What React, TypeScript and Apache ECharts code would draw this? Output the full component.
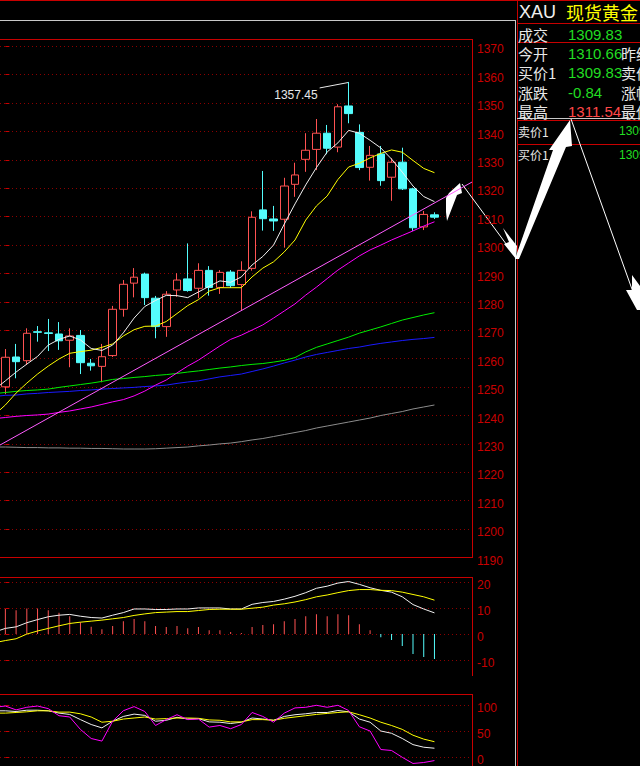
import React, { useEffect, useRef } from "react";
import * as echarts from "echarts";

// ---------- data ----------
const categories = Array.from({ length: 44 }, (_, i) => `K${i + 1}`);

const opens = [1250.1, 1260.6, 1259.3, 1269.5, 1269.1, 1268.7, 1266.5, 1268.2, 1258.4, 1257.3, 1261.1, 1277.4, 1286.6, 1289.8, 1281.3, 1271.3, 1284.2, 1288.1, 1284.8, 1291.1, 1285.1, 1290.5, 1286.1, 1291.8, 1312.4, 1309.2, 1309.1, 1321.4, 1330.2, 1333.7, 1339.4, 1334.5, 1349, 1339.7, 1327.4, 1332.1, 1323.9, 1329.2, 1319.8, 1306.4, 1310.66];
const closes = [1260.5, 1258.95, 1268.95, 1269.3, 1268.9, 1266.3, 1268, 1258.6, 1257.5, 1260.7, 1277.4, 1286.2, 1288.7, 1281.5, 1271.3, 1282.7, 1287.7, 1284, 1291.1, 1285.1, 1290.4, 1285.7, 1291.1, 1309.8, 1309.3, 1308.5, 1320.8, 1324.7, 1333.4, 1339.4, 1334.1, 1348.7, 1346.3, 1327.3, 1331.6, 1322.7, 1329.2, 1319.8, 1306.1, 1310.8, 1309.83];
const lows = [1247.5, 1253.1, 1257.8, 1266, 1262.7, 1263.1, 1257, 1254.6, 1255.8, 1251.7, 1260.6, 1274.8, 1281.6, 1278.9, 1267.2, 1267.7, 1281.8, 1283.6, 1281.3, 1282.2, 1282.8, 1284.9, 1277.1, 1291, 1305.1, 1305, 1299.1, 1317, 1325.8, 1326.4, 1332, 1332.7, 1342.9, 1326.4, 1322.7, 1320.9, 1315.6, 1319.4, 1305, 1305.3, 1309.2];
const highs = [1263.4, 1265.2, 1270.7, 1271.5, 1274, 1272.9, 1270.7, 1270.1, 1259.9, 1265.2, 1278.6, 1287.7, 1291.9, 1290.3, 1282.1, 1283.8, 1290.1, 1300.6, 1293.6, 1292.6, 1291.2, 1291.2, 1294.3, 1311.9, 1326.1, 1313.8, 1323.7, 1329, 1339.4, 1344.4, 1342.3, 1349.6, 1357.45, 1342.5, 1334.9, 1334.9, 1330.6, 1334.3, 1320.2, 1312, 1311.54];

// moving averages: first value is the reading at the left edge of the plot
const ma5 = [1250.7, 1252.2, 1255.3, 1258.1, 1260.8, 1264.8, 1266.8, 1268, 1266.6, 1263.6, 1262.9, 1264.8, 1269.1, 1274.3, 1278.4, 1280.5, 1282.3, 1282.2, 1281.5, 1283.5, 1285.5, 1287.4, 1286.9, 1288.8, 1293, 1296, 1300, 1307.4, 1314.5, 1321.2, 1327.3, 1332.8, 1336, 1340.4, 1339.4, 1336.9, 1334.2, 1330.3, 1325.7, 1320.8, 1317.1, 1315.3];
const ma10 = [1242, 1243.7, 1247.9, 1251.4, 1254.6, 1257.4, 1259.9, 1261.9, 1262.5, 1263, 1264, 1265.2, 1268, 1270.2, 1271.4, 1271.5, 1273.1, 1275.9, 1278.7, 1280.8, 1283.8, 1285, 1285, 1285, 1288.8, 1291.9, 1294.1, 1297.6, 1301.8, 1308.8, 1313.8, 1317.3, 1323.1, 1327.5, 1328.8, 1330.7, 1332.3, 1333.5, 1332.7, 1329.8, 1327, 1325.5];
const ma20 = [1239.1, 1239.3, 1239.7, 1240, 1240.2, 1240.5, 1241.1, 1241.6, 1242.3, 1243, 1243.9, 1244.8, 1245.6, 1246.9, 1248.6, 1250.7, 1252.5, 1255, 1257.4, 1259.5, 1262, 1264.5, 1266.8, 1268.3, 1270.1, 1271.9, 1274.3, 1276.8, 1279.3, 1282.4, 1285.2, 1288.2, 1291.2, 1293.7, 1296.2, 1298.3, 1300, 1301.8, 1303.4, 1305, 1306.7, 1308.2];
const ma30 = [1247.9, 1248.1, 1248.5, 1248.8, 1249, 1249.3, 1249.9, 1250.4, 1250.9, 1251.4, 1252, 1252.7, 1253, 1253.4, 1253.7, 1254.1, 1254.4, 1254.8, 1255.3, 1255.7, 1256.2, 1256.7, 1257.1, 1257.6, 1258, 1258.3, 1258.8, 1259.4, 1260.4, 1262.4, 1264, 1265.2, 1266.4, 1267.6, 1269, 1270.1, 1271.2, 1272.4, 1273.6, 1274.5, 1275.4, 1276.2];
const ma60 = [1246.9, 1247.1, 1247.2, 1247.6, 1247.8, 1248.1, 1248.3, 1248.5, 1248.8, 1249, 1249.3, 1249.5, 1249.7, 1249.9, 1250.2, 1250.4, 1250.7, 1251.3, 1251.8, 1252.2, 1252.9, 1253.6, 1254.1, 1254.6, 1255.5, 1256.4, 1257.4, 1258.5, 1259.5, 1260.6, 1261.5, 1262.2, 1262.9, 1263.6, 1264.1, 1264.8, 1265.4, 1265.9, 1266.4, 1266.8, 1267.1, 1267.5];
const ma120 = [1228.9, 1228.9, 1228.8, 1228.7, 1228.7, 1228.6, 1228.6, 1228.5, 1228.5, 1228.4, 1228.4, 1228.3, 1228.2, 1228.2, 1228.2, 1228.3, 1228.5, 1228.7, 1228.9, 1229.3, 1229.6, 1230, 1230.3, 1230.8, 1231.4, 1231.9, 1232.6, 1233.3, 1234, 1234.7, 1235.6, 1236.3, 1237, 1237.7, 1238.4, 1239.1, 1240, 1240.7, 1241.4, 1242.3, 1243, 1243.7];
const trendLine = [1229.6, 1322.2]; // drawn trend line, left edge -> right edge

// MACD
const macdHist = [9.7, 9.2, 9.9, 9.9, 9.2, 8.2, 6.9, 4.6, 2.8, 1.9, 3.1, 5.0, 5.8, 5.0, 3.1, 2.7, 3.1, 2.3, 2.7, 1.5, 1.5, 0.8, 0.4, 2.7, 3.5, 3.8, 5.0, 5.8, 6.9, 7.7, 6.9, 7.7, 7.3, 3.8, 1.5, -1.2, -2.3, -4.6, -7.7, -8.8, -9.6];
const macdDif = [1.5, 2.2, 2.8, 4.4, 5.6, 6.7, 7.3, 7.6, 6.9, 6.4, 6.2, 7.3, 8.3, 9.7, 9.7, 9.5, 9.5, 9.7, 9.7, 10.1, 10.1, 10.1, 9.7, 9.7, 11.5, 12.2, 12.6, 13.5, 14.6, 16, 17.7, 18.5, 19.7, 20.3, 19.2, 17.9, 16.9, 16.2, 14.4, 11.4, 9.7, 8.2];
const macdDea = [-2.9, -2.5, -1.8, 0, 1.2, 2.2, 3.2, 4.1, 4.6, 5.0, 5.4, 5.9, 6.4, 7.2, 7.8, 8.3, 8.5, 8.7, 8.7, 9.1, 9.5, 9.6, 9.6, 9.6, 10.0, 10.4, 11.2, 11.7, 12.4, 13.3, 14.4, 15.1, 16.0, 16.8, 17.2, 17.2, 16.9, 16.8, 16.2, 15.3, 14.4, 13.1];

// KDJ
const kdjK = [88.8, 88.8, 87.5, 90, 90, 88.8, 84.4, 81.9, 71.9, 62.5, 56, 68.8, 78, 82.5, 80, 68.8, 70.6, 76.3, 73, 73.8, 67.5, 66.9, 64.4, 66.9, 75, 73, 70.6, 78, 81.3, 83.1, 85.6, 85.6, 89.4, 86.9, 73, 66.9, 50, 45.6, 35.6, 23.8, 18.8, 16.9];
const kdjD = [84.4, 84.4, 85.6, 86.9, 88.8, 88.8, 86.3, 86.3, 83.1, 76.9, 66.9, 68.8, 73, 75, 76.9, 73, 73.8, 75, 75, 74.4, 71.3, 70.6, 67.5, 67.5, 71.9, 71.9, 70.6, 74.4, 76.9, 79.4, 81.9, 83.8, 85.6, 86.9, 81.3, 75, 66.9, 60.6, 53.1, 41.9, 34.4, 29.4];
const kdjJ = [96.9, 98, 90.6, 95.6, 98, 93, 79.4, 76.9, 53, 35.6, 30.6, 68.8, 89, 96.9, 87.5, 60.6, 71.9, 81.3, 71.9, 73.1, 57.5, 60.6, 54.4, 62.5, 85.6, 78, 66.9, 84.4, 94.4, 95.6, 99.4, 95.6, 99.4, 89.4, 58.1, 50, 14.4, 12.5, -0.6, -12.5, -10.6, -6.9];

// quote panel texts
const symbolCode = "XAU";
const symbolName = "现货黄金";
const quoteLabels = ["成交", "今开", "买价1", "涨跌", "最高"];
const quoteValues = ["1309.83", "1310.66", "1309.83", "-0.84", "1311.54"];
const quoteRightLabels = ["", "昨结", "卖价", "涨幅", "最低"];
const depthLabels = ["卖价1", "买价1"];
const depthValues = ["1309.83", "1309.83"];

// ---------- styling ----------
const RED = "#ff5252";
const CYAN = "#54fcfc";
const FRAME = "#c80000";
const GRIDDOT = "#8c0000";
const AXISTXT = "#c80000";
const LATIN = "'Liberation Sans', Arial, 'Noto Sans CJK SC', sans-serif";
const CJK = "'Noto Sans CJK SC', 'Liberation Sans', sans-serif";

// index 0 -> left edge of the plot, index i>=1 -> candle i-1
function edgeLine(arr: number[]) {
  return arr.map((v, i) => [i === 0 ? -0.5 : i - 1, v]);
}

function yAxisBase(grid: number, min: number, max: number, interval: number) {
  return {
    type: "value",
    gridIndex: grid,
    min,
    max,
    interval,
    position: "right",
    axisLine: { show: false },
    axisTick: { show: true, inside: false, length: 4, lineStyle: { color: FRAME } },
    axisLabel: {
      color: AXISTXT,
      fontSize: 12,
      fontFamily: LATIN,
      margin: 5,
      verticalAlign: "top",
      lineHeight: 6,
      formatter: (v: number) => String(v),
    },
    splitLine: { show: true, lineStyle: { color: GRIDDOT, type: [1, 3], width: 1 } },
  };
}

function line(name: string, xAxisIndex: number, yAxisIndex: number, data: any[], color: string, clip = true) {
  return {
    name,
    type: "line",
    xAxisIndex,
    yAxisIndex,
    data,
    symbol: "none",
    clip,
    lineStyle: { color, width: 1 },
    emphasis: { disabled: true },
  };
}

export default function App() {
  const ref = useRef<HTMLDivElement>(null);

  useEffect(() => {
    document.body.style.margin = "0";
    document.body.style.background = "#000";
    const chart = echarts.init(ref.current!, null, { renderer: "svg" });

    const option: any = {
      animation: false,
      backgroundColor: "#000",
      grid: [
        { left: 0, top: 46.3, width: 472, height: 511.2 },
        { left: 0, top: 582.3, width: 472, height: 77.7 },
        { left: 0, top: 705, width: 472, height: 53.3 },
      ],
      xAxis: [
        { type: "category", gridIndex: 0, data: categories, show: false, boundaryGap: true },
        { type: "value", gridIndex: 0, min: -0.5, max: 43.5, show: false },
        { type: "category", gridIndex: 1, data: categories, show: false, boundaryGap: true },
        { type: "value", gridIndex: 1, min: -0.5, max: 43.5, show: false },
        { type: "value", gridIndex: 2, min: -0.5, max: 43.5, show: false },
      ],
      yAxis: [
        { ...yAxisBase(0, 1190, 1370, 10) },
        { ...yAxisBase(1, -10, 20, 10) },
        { ...yAxisBase(2, 0, 100, 50) },
      ],
      series: [
        {
          type: "candlestick",
          xAxisIndex: 0,
          yAxisIndex: 0,
          barWidth: 8,
          data: opens.map((o, i) => [o, closes[i], lows[i], highs[i]]),
          itemStyle: {
            color: "#000",
            color0: CYAN,
            borderColor: RED,
            borderColor0: CYAN,
            borderWidth: 1,
          },
          emphasis: { disabled: true },
        },
        line("MA120", 1, 0, edgeLine(ma120), "#8c8c8c"),
        line("MA60", 1, 0, edgeLine(ma60), "#1a1aff"),
        line("MA30", 1, 0, edgeLine(ma30), "#00ee00"),
        line("MA20", 1, 0, edgeLine(ma20), "#ff00ff"),
        line("Trend", 1, 0, [[-0.5, trendLine[0]], [43.5, trendLine[1]]], "#ff5cff"),
        line("MA10", 1, 0, edgeLine(ma10), "#ffff00"),
        line("MA5", 1, 0, edgeLine(ma5), "#f0f0f0"),
        {
          type: "bar",
          xAxisIndex: 2,
          yAxisIndex: 1,
          barWidth: 1,
          data: macdHist.map((v) => ({ value: v, itemStyle: { color: v >= 0 ? RED : CYAN } })),
          emphasis: { disabled: true },
        },
        line("DIF", 3, 1, edgeLine(macdDif), "#f0f0f0", false),
        line("DEA", 3, 1, edgeLine(macdDea), "#ffff00", false),
        line("K", 4, 2, edgeLine(kdjK), "#f0f0f0", false),
        line("D", 4, 2, edgeLine(kdjD), "#ffff00", false),
        line("J", 4, 2, edgeLine(kdjJ), "#ff00ff", false),
      ],
    };
    chart.setOption(option);

    // annotation of the highest high
    const hi = Math.max(...highs);
    const hiIdx = highs.indexOf(hi);
    const p = chart.convertToPixel({ seriesIndex: 0 }, [hiIdx, hi]) as number[];

    const hline = (x1: number, y1: number, x2: number, y2: number, color: string) => ({
      type: "line",
      silent: true,
      shape: { x1, y1, x2, y2 },
      style: { stroke: color, lineWidth: 1 },
    });
    const txt = (text: string, x: number, y: number, fill: string, fontSize: number, family = CJK, align = "left") => ({
      type: "text",
      silent: true,
      x,
      y,
      style: {
        text,
        fill,
        fontSize,
        fontFamily: family,
        align,
        textAlign: align,
        verticalAlign: "middle",
        textVerticalAlign: "middle",
      },
    });

    const graphics: any[] = [
      // frames
      hline(0, 0.5, 640, 0.5, FRAME),
      hline(0, 20.5, 515, 20.5, "#c8c8c8"),
      hline(0, 39.5, 472, 39.5, FRAME),
      hline(472.5, 39, 472.5, 558, FRAME),
      hline(0, 557.5, 472, 557.5, FRAME),
      hline(0, 577.5, 472, 577.5, FRAME),
      hline(472.5, 577, 472.5, 676, FRAME),
      hline(0, 694.5, 472, 694.5, FRAME),
      hline(472.5, 694, 472.5, 766, FRAME),
      hline(515.5, 20, 515.5, 766, "#c8c8c8"),
      hline(517.5, 0, 517.5, 766, FRAME),
      hline(517, 23.5, 640, 23.5, FRAME),
      hline(517, 42.5, 640, 42.5, FRAME),
      hline(517, 118.5, 640, 118.5, "#c8c8c8"),
      hline(517, 120.5, 640, 120.5, FRAME),
      hline(517, 144.5, 640, 144.5, FRAME),
      // high annotation
      {
        type: "polyline",
        silent: true,
        shape: { points: [[p[0] - 29, p[1] + 6], [p[0], p[1] + 0.5]] },
        style: { stroke: "#e8e8e8", lineWidth: 1, fill: null },
      },
      txt(hi.toFixed(2), p[0] - 31, p[1] + 13, "#e8e8e8", 12, LATIN, "right"),
      // quote panel
      txt(symbolCode, 519, 12, "#f0f0f0", 18, LATIN),
      txt(symbolName, 566, 12, "#ffff00", 18, CJK),
    ];
    quoteLabels.forEach((label, i) => {
      const y = 34 + i * 19.4;
      graphics.push(txt(label, 518, y, "#e8e8e8", 15, CJK));
      graphics.push(txt(quoteValues[i], 568, y, i === 4 ? "#ff4848" : "#22dd22", 15, LATIN));
      if (quoteRightLabels[i]) graphics.push(txt(quoteRightLabels[i], 621, y, "#e8e8e8", 15, CJK));
    });
    depthLabels.forEach((label, i) => {
      const y = 131 + i * 23.5;
      graphics.push(txt(label, 518, y, "#e8e8e8", 12, CJK));
      graphics.push(txt(depthValues[i], 619, y, "#22dd22", 12, LATIN));
    });

    // hand drawn arrows
    graphics.push(
      {
        type: "polygon",
        silent: true,
        shape: { points: [[460, 183], [462, 193], [457, 195], [447, 221], [446, 212], [446, 198], [449, 193]] },
        style: { fill: "#ffffff" },
      },
      hline(462, 184, 512, 252, "#ffffff"),
      {
        type: "polygon",
        silent: true,
        shape: { points: [[516, 259], [504, 244], [509, 242], [503, 228], [517, 246]] },
        style: { fill: "#ffffff" },
      },
      {
        type: "polygon",
        silent: true,
        shape: { points: [[515, 259], [553, 150], [549, 150], [570, 120], [572, 146], [566, 147], [519, 259]] },
        style: { fill: "#ffffff" },
      },
      hline(571, 119, 633, 292, "#ffffff"),
      {
        type: "polygon",
        silent: true,
        shape: { points: [[637, 310], [626, 290], [632, 290], [632, 275], [640, 286], [640, 310]] },
        style: { fill: "#ffffff" },
      }
    );

    chart.setOption({ graphic: graphics });

    return () => chart.dispose();
  }, []);

  return <div ref={ref} style={{ width: 640, height: 766, background: "#000" }} />;
}
